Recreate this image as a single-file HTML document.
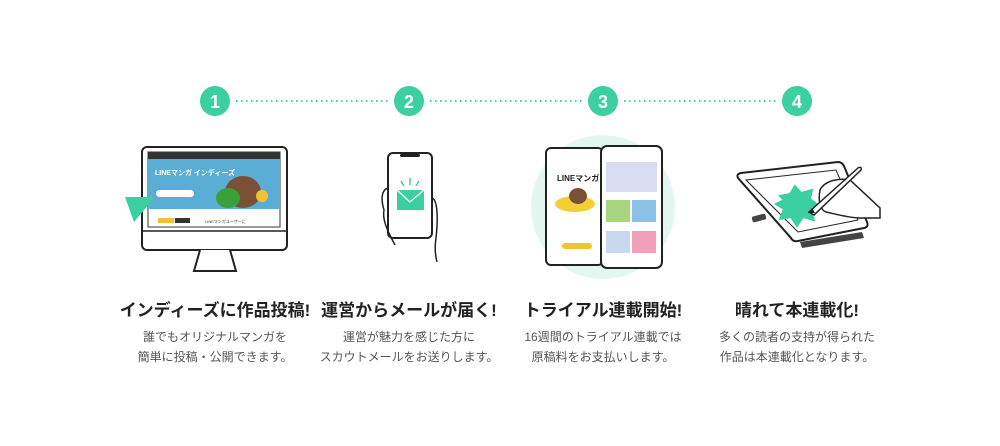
<!DOCTYPE html><html><head><meta charset="utf-8"><style>
body{margin:0;width:1000px;height:446px;background:#fff;font-family:"Liberation Sans","Noto Sans CJK JP",sans-serif;position:relative;overflow:hidden}
.t{position:absolute;width:240px;text-align:center;font-weight:bold;font-size:17px;color:#222;top:296px}
.d{position:absolute;width:240px;text-align:center;font-size:12px;color:#555;line-height:20px;top:327px}
</style></head><body>
<svg width="1000" height="446" style="position:absolute;left:0;top:0">
<g stroke="#3ccfa0" stroke-width="2" stroke-dasharray="1.5 3.5" fill="none">
<line x1="236" y1="101" x2="388" y2="101"/><line x1="430" y1="101" x2="582" y2="101"/><line x1="624" y1="101" x2="776" y2="101"/></g>
<g fill="#3ccfa0"><circle cx="215" cy="101" r="15"/><circle cx="409" cy="101" r="15"/><circle cx="603" cy="101" r="15"/><circle cx="797" cy="101" r="15"/></g>
<g fill="#fff" font-size="18" font-weight="bold" text-anchor="middle" font-family="Liberation Sans,sans-serif">
<text x="215" y="108">1</text><text x="409" y="108">2</text><text x="603" y="108">3</text><text x="797" y="108">4</text></g>
<!-- monitor -->
<rect x="142" y="147" width="145" height="103" rx="5" fill="#fff" stroke="#222" stroke-width="2"/>
<line x1="142" y1="231" x2="287" y2="231" stroke="#222" stroke-width="1.5"/>
<rect x="148" y="152" width="132" height="75" fill="#fff" stroke="#333"/>
<rect x="148" y="152" width="132" height="7" fill="#333"/>
<rect x="148" y="159" width="132" height="50" fill="#5aaed5"/>
<text x="155" y="175" font-size="7" fill="#fff" font-weight="bold">LINEマンガ インディーズ</text>
<rect x="156" y="190" width="38" height="7" rx="3.5" fill="#fff"/>
<ellipse cx="243" cy="192" rx="18" ry="16" fill="#7a5037"/>
<ellipse cx="228" cy="198" rx="12" ry="10" fill="#3aa03a"/>
<circle cx="262" cy="196" r="6" fill="#f2c330"/>
<rect x="158" y="218" width="16" height="5" fill="#f2c330"/><rect x="175" y="218" width="15" height="5" fill="#333"/>
<text x="205" y="223" font-size="4" fill="#333">LINEマンガユーザーに</text>
<polygon points="125,197 155,197 134,222" fill="#3ccfa0"/>
<path d="M200 250 L194 271 L236 271 L230 250" fill="#fff" stroke="#222" stroke-width="2"/>
<!-- phone 2 -->
<rect x="388" y="153" width="44" height="85" rx="5" fill="#fff" stroke="#222" stroke-width="2"/>
<rect x="400" y="154" width="20" height="3" rx="1.5" fill="#222"/>
<rect x="397" y="190" width="27" height="20" fill="#3ccfa0"/>
<path d="M397 190 L410 202 L424 190" stroke="#fff" fill="none" stroke-width="1.2"/>
<g stroke="#3ccfa0" stroke-width="1.5"><line x1="410" y1="178" x2="410" y2="185"/><line x1="401" y1="181" x2="404" y2="186"/><line x1="419" y1="181" x2="416" y2="186"/></g>
<path d="M388 188 C381 190 381 200 384 210 C382 220 388 232 395 245 M432 198 C438 200 438 220 436 238 C434 250 436 258 437 262" stroke="#222" fill="none" stroke-width="1.5"/>
<!-- step 3 -->
<circle cx="603" cy="207" r="72" fill="#e3f7f0"/>
<rect x="546" y="148" width="57" height="117" rx="5" fill="#fff" stroke="#222" stroke-width="2"/>
<text x="557" y="181" font-size="8" font-weight="bold" fill="#222">LINEマンガ</text>
<ellipse cx="575" cy="204" rx="20" ry="8" fill="#f2d035"/>
<ellipse cx="578" cy="196" rx="9" ry="8" fill="#7a5037"/>
<rect x="562" y="243" width="30" height="6" rx="3" fill="#f2c330"/>
<rect x="601" y="146" width="61" height="122" rx="6" fill="#fff" stroke="#222" stroke-width="2"/>
<rect x="606" y="162" width="51" height="30" fill="#d8dcf0"/>
<rect x="606" y="200" width="24" height="22" fill="#a8d680"/><rect x="632" y="200" width="24" height="22" fill="#8cc0e6"/>
<rect x="606" y="231" width="24" height="22" fill="#c9d8ef"/><rect x="632" y="231" width="24" height="22" fill="#f0a0b8"/>
<!-- tablet -->
<rect x="752" y="215" width="14" height="6" rx="2" fill="#444" transform="rotate(-15 759 218)"/>
<path d="M800 242 L862 232 L864 238 L802 248 Z" fill="#444"/>
<path d="M738 178 Q736 174 741 173 L838 162 Q842 162 844 166 L867 222 Q869 227 864 228 L798 241 Q793 242 791 238 Z" fill="#fff" stroke="#222" stroke-width="2"/>
<path d="M746 180 L836 170 L858 220 L798 232 Z" fill="none" stroke="#222" stroke-width="1"/>
<polygon points="780,196 790,194 795,186 801,193 812,190 810,199 818,205 810,210 814,220 803,217 797,226 791,217 780,219 784,209 776,204 784,200" fill="#3ccfa0" stroke="#3ccfa0" stroke-width="2"/>
<path d="M820 190 C825 180 840 178 850 180 L880 208 L880 218 L860 218 C850 218 835 214 826 212 C820 210 818 200 820 190 Z" fill="#fff" stroke="#222" stroke-width="1.5"/>
<path d="M809 212 L858 168 Q862 166 861 170 L814 215 Z" fill="#fff" stroke="#222" stroke-width="1.5"/>
<path d="M808 213 L812 208 L815 213 Z" fill="#222"/>
</svg>
<div class="t" style="left:95px">インディーズに作品投稿!</div>
<div class="t" style="left:289px">運営からメールが届く!</div>
<div class="t" style="left:483px">トライアル連載開始!</div>
<div class="t" style="left:677px">晴れて本連載化!</div>
<div class="d" style="left:95px">誰でもオリジナルマンガを<br>簡単に投稿・公開できます。</div>
<div class="d" style="left:289px">運営が魅力を感じた方に<br>スカウトメールをお送りします。</div>
<div class="d" style="left:483px">16週間のトライアル連載では<br>原稿料をお支払いします。</div>
<div class="d" style="left:677px">多くの読者の支持が得られた<br>作品は本連載化となります。</div>
</body></html>
